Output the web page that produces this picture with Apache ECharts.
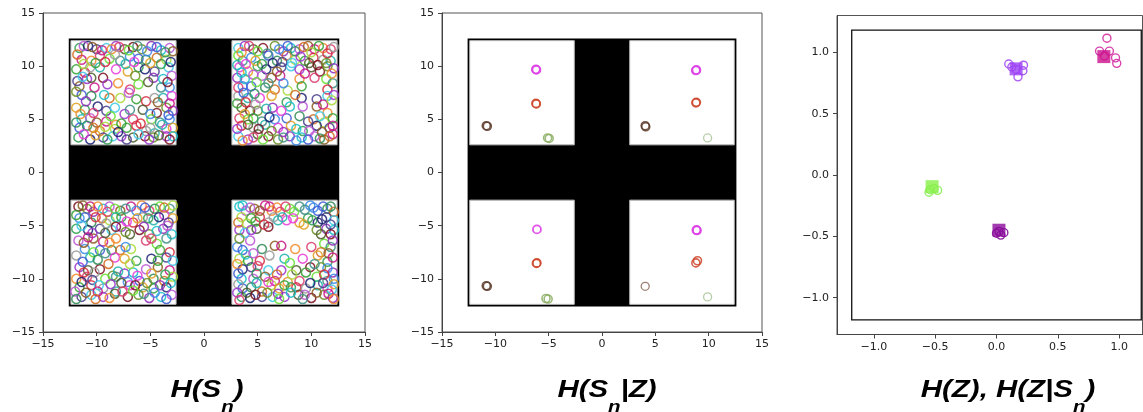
<!DOCTYPE html>
<html>
<head>
<meta charset="utf-8">
<script src="https://cdn.jsdelivr.net/npm/echarts@6/dist/echarts.min.js"></script>
<style>
html,body{margin:0;padding:0;background:#fff;}
#c{width:1143px;height:412px;}
</style>
</head>
<body>
<div id="c"></div>
<script>
// ---------- DATA ----------
// arena geometry (data units)
const arenaHalf = 12.6;
const roomInner = 2.6;
const roomOuter = 12.4;
const axisTicks12 = [-15, -10, -5, 0, 5, 10, 15];
const axisTicks3 = [-1.0, -0.5, 0.0, 0.5, 1.0];

// Panel 1: H(S_n) samples per room
const p1TopLeft = [[-11.6,11.7],[-10.8,11.9],[-10.0,11.6],[-9.1,11.7],[-8.2,11.9],[-7.4,11.6],[-6.6,11.8],[-5.8,11.6],[-4.9,11.9],[-4.0,11.5],[-3.2,11.7],[-2.9,11.4],
[-11.4,10.6],[-10.5,10.5],[-9.7,11.0],[-8.8,10.7],[-7.8,10.5],[-6.9,10.9],[-6.1,10.7],[-5.4,10.6],[-4.4,10.8],[-3.5,10.6],
[-11.9,9.7],[-11.1,9.4],[-10.6,9.9],[-9.7,9.9],[-8.2,9.7],[-7.1,9.5],[-6.1,9.9],[-5.5,9.7],[-4.6,9.5],[-3.3,9.9],
[-10.9,8.8],[-10.5,8.9],[-9.4,8.9],[-6.4,9.1],[-4.7,8.9],[-3.8,8.8],[-3.0,9.1],
[-11.6,8.1],[-10.2,8.0],[-8.0,8.4],[-6.9,7.8],[-6.1,8.3],[-4.0,8.0],[-3.2,8.0],
[-11.4,7.3],[-10.5,7.2],[-8.8,7.0],[-7.8,7.0],[-6.3,6.9],[-5.4,6.7],[-4.6,7.0],[-3.8,7.0],[-3.0,7.2],
[-11.9,6.1],[-11.1,5.9],[-9.9,6.2],[-9.1,5.8],[-8.3,6.1],[-7.4,5.5],[-5.7,5.9],[-4.4,5.6],[-3.5,6.1],[-2.9,5.8],
[-11.4,5.0],[-10.6,5.1],[-10.0,4.7],[-9.1,4.8],[-8.2,4.5],[-6.6,5.0],[-4.9,5.0],[-4.1,4.7],[-3.2,5.0],
[-11.6,4.2],[-10.9,4.4],[-9.7,3.9],[-8.3,4.1],[-7.2,4.2],[-6.3,4.4],[-5.4,3.9],[-4.6,3.7],[-3.5,4.1],[-2.9,4.2],
[-11.7,3.3],[-10.6,3.1],[-9.4,3.3],[-8.5,3.4],[-7.7,3.4],[-6.6,3.3],[-5.5,3.4],[-4.7,3.3],[-3.5,3.4],[-2.9,3.4],
[-11.2,11.9],[-10.4,11.8],[-9.5,11.5],[-8.6,11.6],[-7.9,11.8],[-7.0,11.5],[-6.2,11.9],[-5.3,11.4],[-4.4,11.8],[-3.6,11.3],
[-11.8,11.1],[-11.2,10.2],[-10.1,10.3],[-9.2,10.4],[-8.3,11.1],[-7.3,10.2],[-6.5,10.4],[-5.0,10.3],[-4.0,10.2],[-3.1,10.4],
[-11.8,8.6],[-11.3,9.0],[-9.0,8.3],[-5.2,8.5],[-3.4,8.5],[-11.9,7.6],[-11.0,6.7],[-9.3,7.3],[-7.0,7.5],[-4.3,6.6],[-3.2,6.5],
[-11.5,5.5],[-10.3,5.6],[-8.7,5.3],[-6.9,5.9],[-5.0,5.5],[-3.3,5.4],[-11.9,4.7],[-10.3,4.2],[-9.2,4.3],[-7.7,4.6],[-5.9,4.6],
[-5.0,4.2],[-3.9,4.5],[-11.2,3.6],[-10.1,3.5],[-9.0,3.1],[-8.0,3.8],[-7.2,3.1],[-6.1,3.6],[-5.1,3.1],[-4.2,3.5],[-3.2,3.1]];

const p1TopRight = [[3.2,11.7],[3.8,11.9],[4.6,11.6],[5.5,11.7],[6.6,11.9],[7.4,11.4],[8.1,11.7],[8.9,11.6],[9.7,11.9],[10.3,11.6],[11.1,11.7],[11.8,11.6],
[3.2,11.0],[3.6,10.5],[4.4,10.8],[6.0,11.0],[6.8,10.5],[7.7,11.0],[8.5,10.6],[9.4,10.5],[10.2,10.8],[11.1,10.6],[11.8,10.5],
[3.3,9.9],[4.1,9.5],[5.0,10.0],[5.8,9.7],[7.2,9.9],[8.1,10.0],[8.9,9.7],[10.0,9.9],[10.8,9.5],[11.5,10.0],
[3.1,8.9],[3.8,8.8],[5.4,9.1],[6.3,8.9],[7.1,9.1],[8.9,8.8],[10.3,8.9],[11.4,8.8],[12.0,8.4],
[3.6,8.1],[4.4,8.1],[5.7,8.0],[6.6,7.8],[7.8,7.7],[9.1,8.1],[11.5,7.8],
[3.2,7.2],[4.1,7.0],[5.2,7.0],[6.3,7.2],[7.7,6.6],[9.1,7.0],[10.5,6.9],[11.5,7.2],[12.1,7.3],
[3.5,6.1],[4.3,5.8],[5.0,5.8],[6.4,6.1],[8.0,6.2],[9.2,6.2],[10.5,6.2],[11.1,6.4],[11.5,5.6],
[3.3,5.1],[4.1,5.0],[5.4,4.8],[6.6,5.0],[7.7,5.1],[8.9,5.3],[10.2,5.0],[11.2,4.7],[12.0,5.1],
[3.5,4.4],[4.6,4.2],[5.7,4.5],[6.9,4.2],[8.1,4.4],[9.2,3.9],[10.5,4.4],[11.7,4.2],
[3.2,3.4],[4.1,3.1],[5.0,3.6],[6.0,3.4],[6.9,3.1],[8.0,3.4],[9.1,3.3],[10.3,3.4],[11.2,3.1],[12.0,3.6],
[3.5,11.3],[4.2,11.9],[5.0,11.4],[5.9,11.2],[7.0,11.6],[7.8,11.9],[8.5,11.4],[9.3,11.8],[10.0,11.3],[10.7,11.9],[11.5,11.2],[12.1,11.8],
[3.1,10.1],[3.9,10.2],[4.8,10.5],[5.4,10.2],[6.4,10.3],[7.3,10.4],[8.2,10.3],[9.0,10.9],[9.8,10.3],[10.6,10.1],[11.4,10.3],[12.1,9.8],
[3.5,9.4],[4.6,9.2],[6.8,9.5],[9.4,9.3],[11.9,9.3],[3.2,8.0],[4.9,8.5],[6.0,8.4],[7.4,8.4],[3.7,7.5],[4.7,7.4],[8.5,7.3],[11.9,6.8],
[3.1,6.5],[3.9,6.6],[4.8,6.4],[5.8,6.0],[7.2,5.8],[3.8,5.5],[4.6,5.1],[6.1,5.2],[9.7,4.8],[10.8,5.3],
[3.1,4.1],[4.1,4.5],[5.1,4.1],[6.3,3.9],[7.4,3.8],[8.6,4.1],[9.8,3.9],[11.0,3.8],[12.0,4.4],
[3.6,3.0],[4.6,3.3],[5.5,3.1],[7.4,3.3],[8.6,3.0],[9.7,3.1],[10.8,3.2],[11.7,3.4]];

const p1BottomLeft = [[-11.7,-3.2],[-10.9,-3.4],[-10.3,-3.7],[-9.4,-3.4],[-8.8,-3.2],[-7.8,-3.6],[-6.8,-3.2],[-5.8,-3.1],[-5.1,-3.6],[-4.1,-3.2],[-3.2,-3.4],
[-11.6,-4.3],[-11.1,-4.2],[-10.5,-4.7],[-9.5,-4.3],[-8.8,-4.5],[-7.7,-4.2],[-6.6,-4.7],[-5.7,-4.2],[-4.7,-4.5],[-3.7,-4.0],[-2.9,-4.3],
[-11.9,-5.3],[-10.8,-5.4],[-9.7,-5.3],[-8.6,-5.4],[-7.7,-5.1],[-6.9,-5.8],[-6.0,-5.4],[-5.1,-5.8],[-3.8,-5.3],[-3.0,-5.8],
[-11.7,-6.4],[-10.3,-6.2],[-9.4,-6.5],[-8.2,-6.2],[-5.4,-6.4],[-4.4,-6.7],[-3.5,-6.2],
[-11.1,-7.2],[-9.7,-7.3],[-8.6,-7.3],[-7.8,-7.3],[-6.8,-7.2],[-4.1,-7.3],[-3.2,-7.5],
[-11.9,-7.8],[-10.6,-8.0],[-8.3,-8.0],[-7.4,-8.1],[-6.3,-8.3],[-4.9,-8.1],[-3.5,-8.0],[-2.9,-8.3],
[-11.6,-8.9],[-10.8,-9.2],[-9.7,-9.1],[-8.5,-9.7],[-7.4,-9.5],[-6.6,-9.4],[-5.4,-9.1],[-4.3,-8.9],[-3.2,-9.2],
[-11.9,-10.0],[-10.9,-9.8],[-9.2,-10.0],[-8.2,-9.8],[-7.1,-10.3],[-6.0,-10.2],[-4.7,-10.0],[-3.7,-10.2],[-2.9,-9.8],
[-11.6,-10.8],[-10.5,-10.6],[-9.4,-10.9],[-8.2,-11.2],[-6.9,-10.6],[-5.7,-10.8],[-4.7,-10.9],[-3.5,-10.8],
[-11.4,-11.7],[-10.5,-11.5],[-9.4,-11.7],[-8.3,-11.4],[-7.1,-11.7],[-6.1,-11.5],[-5.1,-11.8],[-4.0,-11.7],[-3.0,-11.5],
[-11.3,-3.1],[-10.6,-3.2],[-9.9,-3.2],[-9.0,-3.7],[-8.3,-3.4],[-7.3,-3.4],[-6.3,-3.6],[-5.5,-3.3],[-4.6,-3.4],[-3.7,-3.3],[-2.9,-3.1],
[-11.9,-4.0],[-10.1,-4.2],[-9.1,-4.8],[-8.2,-4.2],[-7.2,-4.6],[-6.2,-4.3],[-5.2,-4.3],[-4.2,-4.2],[-3.3,-4.7],
[-11.4,-5.0],[-10.4,-5.7],[-9.2,-5.7],[-8.2,-5.1],[-7.3,-5.6],[-5.6,-5.1],[-4.4,-5.5],[-3.4,-5.0],
[-11.2,-6.6],[-10.8,-6.1],[-8.8,-6.6],[-4.9,-6.2],[-10.3,-7.5],[-9.2,-7.6],[-7.3,-7.0],
[-11.3,-8.4],[-9.9,-8.2],[-8.9,-8.6],[-6.9,-8.6],[-4.3,-8.3],[-11.2,-9.4],[-10.2,-9.4],[-8.0,-9.3],[-6.2,-9.7],[-4.9,-9.5],[-3.6,-9.6],
[-11.4,-10.3],[-10.4,-10.1],[-9.8,-10.6],[-8.7,-10.5],[-7.7,-10.4],[-6.4,-10.6],[-5.3,-10.4],[-4.1,-10.6],[-3.1,-10.4],
[-12.0,-11.2],[-11.0,-11.3],[-9.9,-11.2],[-8.8,-11.8],[-7.6,-11.2],[-6.6,-11.1],[-5.6,-11.4],[-4.6,-11.3],[-3.5,-11.9],[-11.9,-11.9],[-10.1,-11.9]];

const p1BottomRight = [[3.3,-3.2],[3.9,-3.6],[4.7,-3.4],[5.7,-3.1],[6.3,-3.6],[7.1,-3.7],[8.0,-3.4],[8.9,-3.2],[9.9,-3.1],[10.6,-3.6],[11.5,-3.4],[12.1,-3.7],
[3.5,-4.2],[4.4,-4.3],[5.2,-4.2],[6.0,-4.7],[6.9,-4.5],[7.7,-4.5],[8.9,-4.7],[9.7,-4.3],[10.6,-4.7],[11.4,-4.2],[12.1,-4.5],
[3.3,-5.4],[4.9,-5.3],[6.0,-5.1],[10.5,-5.4],[11.4,-5.3],[12.1,-5.4],
[4.3,-6.4],[6.6,-6.9],[7.2,-6.9],[8.5,-7.2],[10.0,-7.0],[11.2,-6.7],[11.8,-7.0],
[3.1,-7.0],[3.6,-7.3],[5.4,-7.2],[10.9,-7.5],
[3.3,-8.1],[4.1,-8.3],[5.2,-8.3],[6.1,-7.8],[7.5,-8.1],[9.2,-8.1],[10.6,-7.8],[11.5,-8.4],
[3.6,-9.1],[4.4,-8.9],[6.0,-9.2],[7.2,-9.2],[8.6,-9.2],[9.9,-8.9],[10.9,-8.9],[12.0,-9.4],
[3.5,-10.0],[4.6,-10.0],[5.7,-9.8],[6.6,-10.2],[7.8,-10.3],[8.9,-10.2],[10.5,-9.8],[11.5,-10.2],[12.1,-10.0],
[3.6,-10.9],[4.4,-10.8],[5.4,-11.2],[6.3,-10.6],[7.5,-10.6],[8.6,-10.8],[9.5,-10.9],[10.6,-10.6],[11.5,-10.9],[12.1,-10.5],
[3.5,-11.7],[4.3,-11.8],[5.4,-11.7],[6.4,-11.7],[7.5,-11.7],[8.8,-11.5],[10.0,-11.8],[11.2,-11.5],[12.0,-11.8],
[3.6,-3.1],[4.3,-3.3],[5.2,-3.6],[6.1,-3.2],[6.8,-3.3],[7.6,-3.2],[8.4,-3.7],[9.4,-3.5],[10.2,-3.3],[11.1,-3.2],[11.8,-3.2],
[3.2,-4.7],[4.0,-4.8],[4.8,-4.6],[5.6,-4.9],[6.5,-4.2],[7.3,-4.2],[8.3,-4.3],[9.3,-4.9],[10.1,-4.5],[11.0,-4.4],[11.8,-4.9],
[3.8,-5.7],[4.4,-5.4],[10.9,-5.8],[11.8,-5.8],[3.3,-6.2],[12.0,-6.4],[3.9,-7.7],[4.6,-7.6],[11.6,-7.6],[12.0,-8.0],
[3.1,-8.6],[5.0,-8.8],[8.0,-8.5],[10.3,-8.6],[11.5,-9.0],[3.2,-9.5],[4.9,-9.5],[6.8,-9.6],[8.2,-9.6],[9.5,-9.4],[11.2,-9.6],
[3.2,-10.5],[4.9,-10.4],[6.0,-10.3],[7.0,-10.9],[8.1,-10.8],[9.9,-10.4],[11.1,-10.4],[11.9,-11.0],
[3.1,-11.3],[4.0,-11.3],[4.8,-11.5],[5.9,-11.3],[6.9,-11.4],[8.1,-11.3],[9.4,-11.5],[10.5,-11.3],[11.6,-11.4],[12.1,-11.9],[3.3,-12.0],[7.0,-11.9],[9.2,-11.9]];

// Panel 2: H(S_n|Z) samples (grouped by latent code)
const p2Magenta = [[-6.2,9.7],[-6.15,9.65],[8.8,9.6],[8.85,9.65],[-6.1,-5.35],[8.9,-5.45],[8.85,-5.4]];
const p2Red = [[-6.2,6.5],[-6.15,6.45],[8.85,6.6],[8.8,6.55],[-6.15,-8.55],[-6.1,-8.5],[8.8,-8.5],[8.95,-8.3]];
const p2Brown = [[-10.85,4.4],[-10.75,4.35],[4.05,4.4],[4.1,4.3],[-10.85,-10.65],[-10.75,-10.7]];
const p2BrownLight = [[4.05,-10.7]];
const p2Green = [[-5.1,3.25],[-4.95,3.2],[-5.25,-11.85],[-5.05,-11.9]];
const p2GreenLight = [[9.9,3.25],[9.9,-11.7]];

// Panel 3: H(Z) (squares) and H(Z|S_n) (circles)
const p3SqMagenta = [[0.875,0.965]];
const p3SqViolet = [[0.16,0.865]];
const p3SqGreen = [[-0.525,-0.095]];
const p3SqPurple = [[0.02,-0.45]];
const p3CiMagenta = [[0.84,1.01],[0.92,1.01],[0.90,1.115],[0.97,0.955],[0.98,0.91],[0.88,0.97]];
const p3CiViolet = [[0.10,0.905],[0.22,0.895],[0.215,0.85],[0.175,0.80],[0.125,0.88],[0.16,0.86]];
const p3CiGreen = [[-0.55,-0.14],[-0.48,-0.125],[-0.51,-0.11],[-0.54,-0.12]];
const p3CiPurple = [[0.0,-0.475],[0.035,-0.49],[0.06,-0.47],[0.02,-0.46]];

// ---------- STYLE ----------
const ringPalette = ['#2e9e4f','#d6283c','#3b5bd6','#f08a2a','#8e2bb8','#3cc9e8','#e83ad8','#a8d93a',
  '#3f8f86','#8a5a22','#7a1020','#1a1f70','#9a9a9a','#2e8b57','#dc3c6c','#18c0c8','#9932cc','#e0a020',
  '#32a032','#3a88e6','#c71585','#6b8e23','#483d8b','#20b2aa','#d2691e','#66e030','#ba55d3','#4a5a2a'];

const chart = echarts.init(document.getElementById('c'), null, {renderer:'canvas'});

const minus = s => String(s).replace('-', '\u2212');
const tickFont = {fontSize: 11, color: '#222', fontFamily: 'DejaVu Sans'};

function axisMaze(gi, margin){
  return {gridIndex: gi, type:'value', min:-15, max:15, interval:5,
    splitLine:{show:false},
    axisLine:{show:true, onZero:false, lineStyle:{color:'#444', width:1}},
    axisTick:{show:true, length:4, lineStyle:{color:'#444'}},
    axisLabel:Object.assign({margin:margin, formatter:v=>minus(v)}, tickFont)};
}
function axis3(gi, isX){
  return {gridIndex: gi, type:'value', min:-1.3, max: isX ? 1.19 : 1.3,
    splitLine:{show:false},
    axisLine:{show:true, onZero:false, lineStyle:{color:'#444', width:1}},
    axisTick:{show:true, length:4, lineStyle:{color:'#444'}, customValues: axisTicks3},
    axisLabel:Object.assign({margin: isX?7:8, customValues: axisTicks3, formatter:v=>minus(Number(v).toFixed(1))}, tickFont)};
}

function arenaSeries(gi){
  const rooms = [];
  for (const sx of [-1,1]) for (const sy of [-1,1]) {
    const xa = sx*roomInner, xb = sx*roomOuter, ya = sy*roomInner, yb = sy*roomOuter;
    rooms.push([{xAxis:Math.min(xa,xb), yAxis:Math.min(ya,yb)},{xAxis:Math.max(xa,xb), yAxis:Math.max(ya,yb)}]);
  }
  return [
    {type:'scatter', xAxisIndex:gi, yAxisIndex:gi, data:[], z:1, silent:true,
      markArea:{silent:true, itemStyle:{color:'#000', borderWidth:0},
        data:[[{xAxis:-arenaHalf,yAxis:-arenaHalf},{xAxis:arenaHalf,yAxis:arenaHalf}]]}},
    {type:'scatter', xAxisIndex:gi, yAxisIndex:gi, data:[], z:2, silent:true,
      markArea:{silent:true, itemStyle:{color:'#fff', borderColor:'#bbb', borderWidth:1}, data:rooms}}
  ];
}

function ringData(pts, offset){
  return pts.map((p,i)=>({value:p, itemStyle:{color:'rgba(0,0,0,0)',
    borderColor: ringPalette[(i*11 + offset*5) % ringPalette.length], borderWidth:1.5, opacity:0.85}}));
}

function ringSeries(gi, pts, color, size, bw, op){
  return {type:'scatter', xAxisIndex:gi, yAxisIndex:gi, z:3, data:pts, symbol:'circle', symbolSize:size,
    itemStyle:{color:'rgba(0,0,0,0)', borderColor:color, borderWidth:bw, opacity:op}, silent:true};
}
function squareSeries(gi, pts, color){
  return {type:'scatter', xAxisIndex:gi, yAxisIndex:gi, z:4, data:pts, symbol:'rect', symbolSize:13,
    itemStyle:{color:color}, silent:true};
}

const p1All = [].concat(ringData(p1TopLeft,0), ringData(p1TopRight,1), ringData(p1BottomLeft,2), ringData(p1BottomRight,3));

const titleFont = "'Liberation Sans', Arial, sans-serif";
function titleGraphic(x, rich){
  return {type:'text', x:x, y:379, scaleX:1.28, z:100,
    style:{text:rich, align:'center', verticalAlign:'top', fill:'#000',
      rich:{
        a:{fontSize:23, fontWeight:'bold', fontStyle:'italic', fontFamily:titleFont, lineHeight:23, verticalAlign:'top', fill:'#000'},
        b:{fontSize:16, fontWeight:'bold', fontStyle:'italic', fontFamily:titleFont, lineHeight:57, verticalAlign:'middle', fill:'#000'}
      }}};
}

const option = {
  animation:false,
  backgroundColor:'#fff',
  grid:[
    {left:43, top:13, width:322, height:319, show:true, borderColor:'#555', borderWidth:1, backgroundColor:'rgba(0,0,0,0)'},
    {left:442, top:13, width:320, height:319, show:true, borderColor:'#555', borderWidth:1, backgroundColor:'rgba(0,0,0,0)'},
    {left:837, top:15.5, width:305.5, height:319, show:true, borderColor:'#555', borderWidth:1, backgroundColor:'rgba(0,0,0,0)'}
  ],
  xAxis:[axisMaze(0,7), axisMaze(1,7), axis3(2,true)],
  yAxis:[axisMaze(0,8), axisMaze(1,8), axis3(2,false)],
  series:[].concat(
    arenaSeries(0),
    [{type:'scatter', xAxisIndex:0, yAxisIndex:0, z:3, data:p1All, symbol:'circle', symbolSize:9, silent:true}],
    arenaSeries(1),
    [
      ringSeries(1, p2Magenta, '#dd3ee6', 8, 1.8, 0.9),
      ringSeries(1, p2Red, '#cc4428', 8, 1.6, 0.85),
      ringSeries(1, p2Brown, '#5a382a', 8, 1.6, 0.85),
      ringSeries(1, p2BrownLight, '#8a6858', 8, 1.3, 0.85),
      ringSeries(1, p2Green, '#8aae62', 8, 1.6, 0.85),
      ringSeries(1, p2GreenLight, '#a8c494', 8, 1.3, 0.85),
      {type:'scatter', xAxisIndex:2, yAxisIndex:2, data:[], z:1, silent:true,
        markArea:{silent:true, itemStyle:{color:'rgba(0,0,0,0)', borderColor:'#111', borderWidth:1.3},
          data:[[{xAxis:-1.18,yAxis:-1.18},{xAxis:1.18,yAxis:1.18}]]}},
      ringSeries(2, p3CiMagenta, '#d63aa8', 8, 1.4, 0.95),
      ringSeries(2, p3CiViolet, '#a855f2', 8, 1.4, 0.95),
      ringSeries(2, p3CiGreen, '#90ee60', 8, 1.4, 0.95),
      ringSeries(2, p3CiPurple, '#8a1a9e', 8, 1.4, 0.95),
      squareSeries(2, p3SqMagenta, '#cc108c'),
      squareSeries(2, p3SqViolet, '#9b40f5'),
      squareSeries(2, p3SqGreen, '#88f048'),
      squareSeries(2, p3SqPurple, '#8a0a9a')
    ]
  ),
  graphic:[
    titleGraphic(207, '{a|H(S}{b|n}{a|)}'),
    titleGraphic(607, '{a|H(S}{b|n}{a||Z)}'),
    titleGraphic(1008, '{a|H(Z), H(Z|S}{b|n}{a|)}')
  ]
};
chart.setOption(option);
</script>
</body>
</html>
